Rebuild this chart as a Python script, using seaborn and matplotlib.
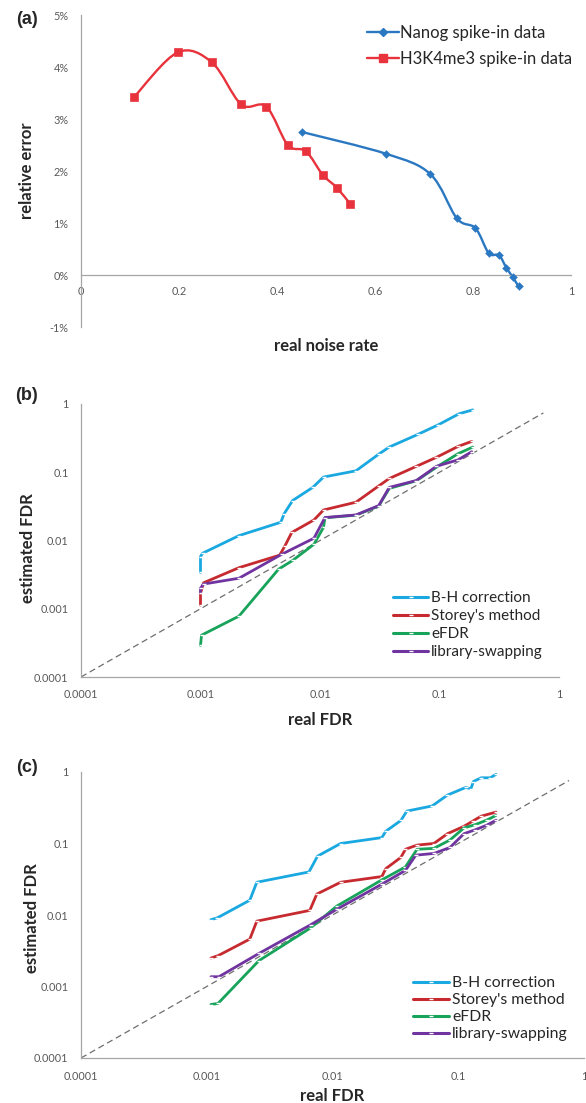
import numpy as np
import pandas as pd
import matplotlib
matplotlib.use("Agg")
import matplotlib.pyplot as plt
import seaborn as sns
from matplotlib.path import Path
from matplotlib.patches import PathPatch
from matplotlib.lines import Line2D
from matplotlib.ticker import PercentFormatter, FixedLocator, FixedFormatter, NullLocator

# ---------------- data ----------------
# panel (a)
nanog_x = [0.451, 0.623, 0.713, 0.767, 0.805, 0.832, 0.853, 0.868, 0.881, 0.893]
nanog_y = [0.0275, 0.0233, 0.0194, 0.0109, 0.0090, 0.0042, 0.0038, 0.0014, -0.0004, -0.0022]
h3k_x = [0.109, 0.197, 0.267, 0.327, 0.378, 0.422, 0.459, 0.493, 0.522, 0.549]
h3k_y = [0.0343, 0.0428, 0.0409, 0.0328, 0.0324, 0.0250, 0.0238, 0.0193, 0.0168, 0.0137]
a_xticks = [0, 0.2, 0.4, 0.6, 0.8, 1]
a_xticklabels = ["0", "0.2", "0.4", "0.6", "0.8", "1"]
a_yticks = [-0.01, 0.0, 0.01, 0.02, 0.03, 0.04, 0.05]

# panel (b)
b_bh_x = [0.001, 0.001, 0.00104, 0.0021, 0.0047, 0.0050, 0.0059, 0.0087, 0.0107, 0.020, 0.031, 0.038, 0.066, 0.098, 0.146, 0.19]
b_bh_y = [0.0034, 0.0058, 0.0065, 0.0118, 0.0185, 0.0245, 0.0385, 0.060, 0.085, 0.105, 0.184, 0.234, 0.359, 0.497, 0.72, 0.82]
b_st_x = [0.001, 0.001, 0.00106, 0.0021, 0.0046, 0.0051, 0.0058, 0.0089, 0.0107, 0.020, 0.031, 0.038, 0.064, 0.094, 0.143, 0.186]
b_st_y = [0.00113, 0.00168, 0.0024, 0.0040, 0.0061, 0.0084, 0.0131, 0.020, 0.028, 0.0364, 0.063, 0.081, 0.122, 0.165, 0.239, 0.283]
b_ef_x = [0.001, 0.00102, 0.0021, 0.0045, 0.0059, 0.0089, 0.0107, 0.011, 0.020, 0.031, 0.038, 0.064, 0.098, 0.143, 0.19]
b_ef_y = [0.00029, 0.00041, 0.00078, 0.0038, 0.0051, 0.0088, 0.0156, 0.0215, 0.0235, 0.032, 0.058, 0.075, 0.124, 0.187, 0.234]
b_ls_x = [0.001, 0.001, 0.00106, 0.0021, 0.0048, 0.0089, 0.011, 0.020, 0.031, 0.038, 0.064, 0.094, 0.143, 0.186]
b_ls_y = [0.0017, 0.0020, 0.0023, 0.0028, 0.0063, 0.0108, 0.0217, 0.0237, 0.0325, 0.060, 0.0757, 0.122, 0.152, 0.20]
b_diag = [0.0001, 0.74]

# panel (c)
c_bh_x = [0.00108, 0.00121, 0.0022, 0.0025, 0.0065, 0.0076, 0.0116, 0.0247, 0.0265, 0.035, 0.039, 0.062, 0.082, 0.115, 0.126, 0.132, 0.152, 0.18, 0.20]
c_bh_y = [0.0086, 0.0091, 0.0161, 0.0287, 0.040, 0.0665, 0.100, 0.121, 0.148, 0.21, 0.284, 0.335, 0.475, 0.61, 0.58, 0.736, 0.83, 0.83, 0.93]
c_st_x = [0.00108, 0.00123, 0.0022, 0.0025, 0.0066, 0.0075, 0.0116, 0.0247, 0.0265, 0.035, 0.038, 0.047, 0.064, 0.082, 0.111, 0.130, 0.152, 0.20]
c_st_y = [0.0025, 0.0027, 0.0046, 0.0082, 0.0116, 0.0196, 0.0287, 0.0345, 0.0444, 0.064, 0.083, 0.095, 0.100, 0.137, 0.174, 0.205, 0.241, 0.275]
c_ef_x = [0.00108, 0.00123, 0.0026, 0.0067, 0.0108, 0.0247, 0.038, 0.047, 0.064, 0.086, 0.111, 0.137, 0.168, 0.20]
c_ef_y = [0.00056, 0.00058, 0.0023, 0.0066, 0.0133, 0.031, 0.047, 0.083, 0.0855, 0.112, 0.165, 0.184, 0.212, 0.247]
c_ls_x = [0.00108, 0.00125, 0.0026, 0.0067, 0.0108, 0.0247, 0.038, 0.046, 0.064, 0.086, 0.111, 0.137, 0.168, 0.20]
c_ls_y = [0.00137, 0.00137, 0.0029, 0.0073, 0.012, 0.027, 0.042, 0.0687, 0.0726, 0.088, 0.137, 0.156, 0.18, 0.212]
c_diag = [0.0001, 0.76]

log_ticks = [0.0001, 0.001, 0.01, 0.1, 1]
log_ticklabels = ["0.0001", "0.001", "0.01", "0.1", "1"]
methods = ["B-H correction", "Storey's method", "eFDR", "library-swapping"]

# ---------------- style ----------------
sns.set_style("white")
plt.rcParams["font.family"] = ["Lato", "DejaVu Sans"]
plt.rcParams["axes.unicode_minus"] = False

W, H = 586, 1103
fig = plt.figure(figsize=(W / 100, H / 100), dpi=100)

def ax_rect(x0, x1, y0, y1):
    return [x0 / W, 1 - y1 / H, (x1 - x0) / W, (y1 - y0) / H]

def ftext(x, y, s, **kw):
    fig.text(x / W, 1 - y / H, s, ha="center", va="center", **kw)

AXC = "#a6a6a6"
TICKC = "#595959"
c_blue_a = "#2b78c2"
c_red_a = "#e8323c"
c_bh = "#1aa8e0"
c_st = "#c62a2f"
c_ef = "#17a35a"
c_ls = "#7034a0"
TICKFS = 7.8
LABFS = 12

def smooth_path(x, y):
    P = np.column_stack([x, y])
    n = len(P)
    verts = [P[0]]
    codes = [Path.MOVETO]
    for i in range(n - 1):
        p0 = P[i - 1] if i > 0 else P[i]
        p1 = P[i]
        p2 = P[i + 1]
        p3 = P[i + 2] if i + 2 < n else P[i + 1]
        verts += [p1 + (p2 - p0) / 6, p2 - (p3 - p1) / 6, p2]
        codes += [Path.CURVE4] * 3
    return Path(verts, codes)

# ---------------- panel (a) ----------------
axA = fig.add_axes(ax_rect(81, 571, 15, 327))
for xs, ys, col in [(nanog_x, nanog_y, c_blue_a), (h3k_x, h3k_y, c_red_a)]:
    axA.add_patch(PathPatch(smooth_path(xs, ys), fill=False, edgecolor=col, lw=1.7, zorder=2))
sns.scatterplot(x=nanog_x, y=nanog_y, ax=axA, marker="D", s=16, color=c_blue_a, edgecolor=c_blue_a, zorder=3)
sns.scatterplot(x=h3k_x, y=h3k_y, ax=axA, marker="s", s=36, color=c_red_a, edgecolor=c_red_a, zorder=3)
axA.set_xlim(0, 1)
axA.set_ylim(-0.01, 0.05)
for s in ["top", "right"]:
    axA.spines[s].set_visible(False)
axA.spines["bottom"].set_position(("data", 0))
for s in ["left", "bottom"]:
    axA.spines[s].set_color(AXC)
    axA.spines[s].set_linewidth(0.9)
axA.set_xticks(a_xticks)
axA.set_xticklabels(a_xticklabels)
axA.set_yticks(a_yticks)
axA.yaxis.set_major_formatter(PercentFormatter(1, decimals=0))
axA.tick_params(axis="both", colors=AXC, labelcolor=TICKC, labelsize=TICKFS, length=3, width=0.9, direction="out")
axA.tick_params(axis="x", pad=5)
axA.tick_params(axis="y", pad=6)
handles = [Line2D([], [], color=c_blue_a, lw=1.7, marker="D", ms=4),
           Line2D([], [], color=c_red_a, lw=1.7, marker="s", ms=6)]
axA.legend(handles, ["Nanog spike-in data", "H3K4me3 spike-in data"], loc="upper left",
           bbox_to_anchor=((367 - 81) / 490, 1 - (25 - 15) / 312), frameon=False, fontsize=12,
           handlelength=1.9, handletextpad=0.1, labelspacing=0.6, borderpad=0, borderaxespad=0)
axA.set_xlabel("")
axA.set_ylabel("")
ftext(27, 20, "(a)", fontsize=13, fontweight="bold", family=["Liberation Sans", "DejaVu Sans"])
ftext(27, 171, "relative error", fontsize=LABFS, fontweight="bold", rotation=90)
ftext(326, 346, "real noise rate", fontsize=LABFS, fontweight="bold")

# ---------------- panels (b), (c) ----------------
def fdr_panel(rect, series, diag, legend_anchor, legfs, legsp, label, label_y, ylab_xy, xlab_xy):
    ax = fig.add_axes(rect)
    ax.plot(diag, diag, color="#6e6e6e", lw=0.9, ls=(0, (5, 3)), zorder=1)
    for (xs, ys, col, name) in series:
        df = pd.DataFrame({"real FDR": xs, "estimated FDR": ys})
        sns.lineplot(data=df, x="real FDR", y="estimated FDR", ax=ax, color=col, lw=2.0,
                     estimator=None, sort=False, label=name, marker="_", markersize=3,
                     markeredgewidth=1.0, zorder=2)
    ax.set_xscale("log")
    ax.set_yscale("log")
    ax.set_xlim(1e-4, 1)
    ax.set_ylim(1e-4, 1)
    for s in ["top", "right"]:
        ax.spines[s].set_visible(False)
    for s in ["left", "bottom"]:
        ax.spines[s].set_color(AXC)
        ax.spines[s].set_linewidth(0.9)
    ax.xaxis.set_major_locator(FixedLocator(log_ticks))
    ax.xaxis.set_major_formatter(FixedFormatter(log_ticklabels))
    ax.yaxis.set_major_locator(FixedLocator(log_ticks))
    ax.yaxis.set_major_formatter(FixedFormatter(log_ticklabels))
    ax.xaxis.set_minor_locator(NullLocator())
    ax.yaxis.set_minor_locator(NullLocator())
    ax.tick_params(axis="both", colors=AXC, labelcolor=TICKC, labelsize=TICKFS, length=3, width=0.9, direction="out")
    ax.tick_params(axis="x", pad=6)
    ax.tick_params(axis="y", pad=6)
    ax.set_xlabel("")
    ax.set_ylabel("")
    leg = ax.legend(loc="upper left", bbox_to_anchor=legend_anchor, frameon=False, fontsize=legfs,
                    handlelength=2.3, handletextpad=0.2, labelspacing=legsp, borderpad=0, borderaxespad=0)
    for h in leg.get_lines():
        h.set_linewidth(2.2)
    ftext(27, label_y, label, fontsize=13, fontweight="bold", family=["Liberation Sans", "DejaVu Sans"])
    ftext(ylab_xy[0], ylab_xy[1], "estimated FDR", fontsize=LABFS, fontweight="bold", rotation=90)
    ftext(xlab_xy[0], xlab_xy[1], "real FDR", fontsize=LABFS, fontweight="bold")
    return ax

b_series = [(b_bh_x, b_bh_y, c_bh, methods[0]), (b_st_x, b_st_y, c_st, methods[1]),
            (b_ef_x, b_ef_y, c_ef, methods[2]), (b_ls_x, b_ls_y, c_ls, methods[3])]
c_series = [(c_bh_x, c_bh_y, c_bh, methods[0]), (c_st_x, c_st_y, c_st, methods[1]),
            (c_ef_x, c_ef_y, c_ef, methods[2]), (c_ls_x, c_ls_y, c_ls, methods[3])]

fdr_panel(ax_rect(81, 559, 404, 677), b_series, b_diag,
          ((393 - 81) / 478, 1 - (591 - 404) / 273), 11, 0.26, "(b)", 395, (28, 548), (320, 720))
fdr_panel(ax_rect(81, 584, 772, 1058), c_series, c_diag,
          ((413 - 81) / 503, 1 - (976 - 772) / 286), 11.3, 0.2, "(c)", 767, (32, 918), (332, 1096))

fig.savefig("out.png", dpi=100)
